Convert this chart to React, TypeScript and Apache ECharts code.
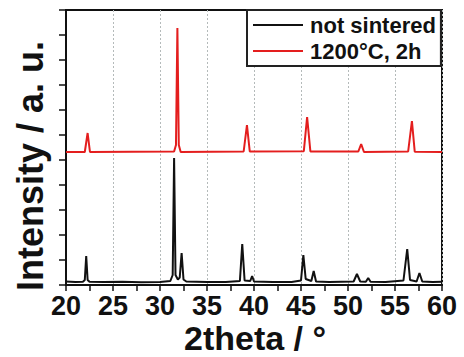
import React, { useEffect, useRef } from "react";
import * as echarts from "echarts";

const xTicks = [20, 25, 30, 35, 40, 45, 50, 55, 60];

const notSinteredX = [
  20.0, 21.0, 21.8, 22.0, 22.15, 22.3, 22.5, 24.0, 26.0, 28.0, 30.0, 31.1, 31.35, 31.5, 31.65, 31.9,
  32.1, 32.3, 32.5, 32.8, 35.0, 37.0, 38.5, 38.75, 39.0, 39.6, 39.8, 40.0, 42.0, 44.0, 45.0, 45.25,
  45.5, 46.1, 46.35, 46.6, 48.0, 50.6, 50.95, 51.3, 51.9, 52.15, 52.4, 54.0, 55.9, 56.3, 56.6, 57.3,
  57.6, 57.9, 59.0, 60.0,
];
const notSinteredY = [
  14, 12, 13, 20, 116, 20, 13, 12, 13, 11, 12, 16, 40, 508, 40, 22,
  30, 128, 22, 14, 12, 12, 16, 164, 18, 16, 36, 14, 12, 12, 18, 120,
  24, 16, 56, 14, 12, 14, 44, 14, 13, 28, 13, 12, 18, 144, 20, 14,
  48, 14, 12, 13,
];

const sinteredX = [
  20.0, 22.0, 22.3, 22.55, 31.5, 31.7, 31.85, 32.0, 32.2, 38.9, 39.25, 39.55, 45.3, 45.65, 46.0,
  51.1, 51.4, 51.7, 56.4, 56.8, 57.1, 60.0,
];
const sinteredY = [
  532, 532, 608, 532, 534, 560, 1028, 560, 532, 534, 640, 534, 535, 672, 534,
  534, 564, 532, 534, 656, 533, 532,
];

const seriesNames = ["not sintered", "1200°C, 2h"];
const xTitle = "2theta / °";
const yTitle = "Intensity / a. u.";

const FONT = "'Liberation Sans', Arial, Helvetica, sans-serif";

export default function App() {
  const ref = useRef<HTMLDivElement>(null);
  useEffect(() => {
    if (!ref.current) return;
    const chart = echarts.init(ref.current, undefined, { renderer: "svg" });
    const zip = (xs: number[], ys: number[]) => xs.map((x, i) => [x, ys[i]]);
    chart.setOption({
      animation: false,
      backgroundColor: "#fff",
      grid: {
        left: 66,
        right: 22,
        top: 10,
        bottom: 72,
        show: true,
        borderColor: "#111",
        borderWidth: 2,
        backgroundColor: "transparent",
      },
      xAxis: {
        type: "value",
        min: 20,
        max: 60,
        interval: 5,
        axisLine: { show: true, lineStyle: { color: "#111", width: 2 } },
        axisTick: { show: true, inside: false, length: 6, lineStyle: { color: "#111", width: 1.5 } },
        minorTick: { show: true, splitNumber: 2, length: 6, lineStyle: { color: "#111", width: 1.5 } },
        axisLabel: {
          margin: 7,
          fontSize: 27,
          fontWeight: "bold",
          color: "#111",
          fontFamily: FONT,
          formatter: (v: number) => (xTicks.includes(v) ? String(v) : ""),
        },
        splitLine: { show: true, lineStyle: { color: "#b4baba", width: 1, type: [2, 2] } },
      },
      yAxis: {
        type: "value",
        min: 0,
        max: 1100,
        interval: 100,
        axisLine: { show: true, lineStyle: { color: "#111", width: 2 } },
        axisTick: { show: true, inside: false, length: 7, lineStyle: { color: "#111", width: 1.5 } },
        axisLabel: { show: false },
        splitLine: { show: false },
      },
      legend: {
        left: 247,
        top: 10,
        orient: "vertical",
        padding: [4, 5, 4, 6],
        itemGap: 4,
        itemWidth: 50,
        itemHeight: 2,
        icon: "rect",
        borderColor: "#222",
        borderWidth: 2,
        backgroundColor: "#fff",
        textStyle: { fontSize: 22, fontWeight: "bold", color: "#111", fontFamily: FONT, padding: [0, 0, 0, 2] },
        data: seriesNames,
      },
      series: [
        {
          name: seriesNames[0],
          type: "line",
          data: zip(notSinteredX, notSinteredY),
          showSymbol: false,
          symbol: "none",
          lineStyle: { color: "#111", width: 2 },
          itemStyle: { color: "#111" },
          z: 3,
        },
        {
          name: seriesNames[1],
          type: "line",
          data: zip(sinteredX, sinteredY),
          showSymbol: false,
          symbol: "none",
          lineStyle: { color: "#e41e1e", width: 2 },
          itemStyle: { color: "#e41e1e" },
          z: 2,
        },
      ],
      graphic: [
        {
          type: "text",
          x: 255,
          y: 338,
          style: {
            text: xTitle,
            fontSize: 34,
            fontWeight: "bold",
            fontFamily: FONT,
            fill: "#111",
            align: "center",
            verticalAlign: "middle",
          },
        },
        {
          type: "text",
          x: 30,
          y: 166,
          rotation: Math.PI / 2,
          style: {
            text: yTitle,
            fontSize: 36,
            fontWeight: "bold",
            fontFamily: FONT,
            fill: "#111",
            align: "center",
            verticalAlign: "middle",
          },
        },
      ],
    });
    return () => chart.dispose();
  }, []);
  return <div ref={ref} style={{ width: 464, height: 357, position: "absolute", left: 0, top: 0 }} />;
}
